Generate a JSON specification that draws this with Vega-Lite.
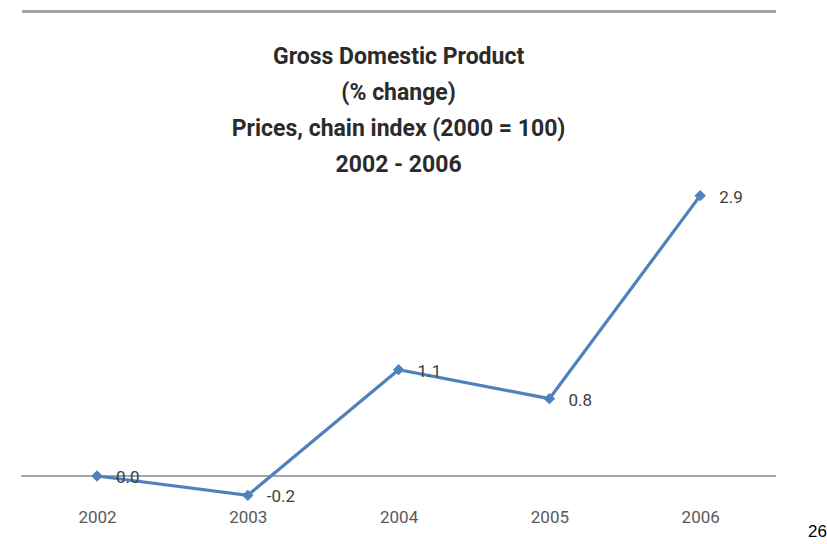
{
  "$schema": "https://vega.github.io/schema/vega-lite/v6.json",
  "autosize": "none",
  "width": 754,
  "height": 494,
  "padding": {"left": 21.6, "top": 11, "right": 51.4, "bottom": 39},
  "background": "white",
  "config": {"view": {"stroke": null}, "font": "Roboto, sans-serif"},
  "title": {
    "text": ["Gross Domestic Product", "(% change)", "Prices, chain index (2000 = 100)", "2002 - 2006"],
    "anchor": "middle",
    "fontSize": 23,
    "fontWeight": "bold",
    "color": "#2b2b2b",
    "lineHeight": 36,
    "offset": -166,
    "font": "Roboto, sans-serif"
  },
  "data": {
    "values": [
      {"year": "2002", "value": 0.0, "label": "0.0"},
      {"year": "2003", "value": -0.2, "label": "-0.2"},
      {"year": "2004", "value": 1.1, "label": "1.1"},
      {"year": "2005", "value": 0.8, "label": "0.8"},
      {"year": "2006", "value": 2.9, "label": "2.9"}
    ]
  },
  "encoding": {
    "x": {
      "field": "year",
      "type": "ordinal",
      "scale": {"type": "point", "padding": 0.5},
      "axis": {
        "title": "26",
        "titleX": 786,
        "titleY": 18,
        "titleAlign": "left",
        "titleFont": "Liberation Sans, Arial, sans-serif",
        "titleFontWeight": "normal",
        "titleFontSize": 17,
        "titleColor": "#000000",
        "labelAngle": 0,
        "labelFontSize": 17,
        "labelColor": "#595959",
        "labelPadding": 4,
        "ticks": false,
        "domain": false,
        "grid": false
      }
    },
    "y": {
      "field": "value",
      "type": "quantitative",
      "scale": {"domain": [-0.3, 4.81], "nice": false, "zero": false},
      "axis": {
        "values": [4.81],
        "grid": true,
        "gridColor": "#a3a3a3",
        "gridWidth": 3,
        "gridOpacity": 1,
        "labels": false,
        "ticks": false,
        "domain": false,
        "title": null
      }
    }
  },
  "layer": [
    {
      "mark": {"type": "rule", "color": "#a6a6a6", "strokeWidth": 1.5},
      "encoding": {
        "x": null,
        "y": {"datum": 0, "type": "quantitative"}
      }
    },
    {
      "mark": {"type": "line", "color": "#4f81bd", "strokeWidth": 3.2}
    },
    {
      "mark": {"type": "point", "shape": "diamond", "filled": true, "color": "#4f81bd", "size": 130, "opacity": 1}
    },
    {
      "mark": {"type": "text", "align": "left", "baseline": "middle", "dx": 19, "dy": 2, "fontSize": 17, "color": "#404040"},
      "encoding": {"text": {"field": "label"}}
    }
  ]
}
